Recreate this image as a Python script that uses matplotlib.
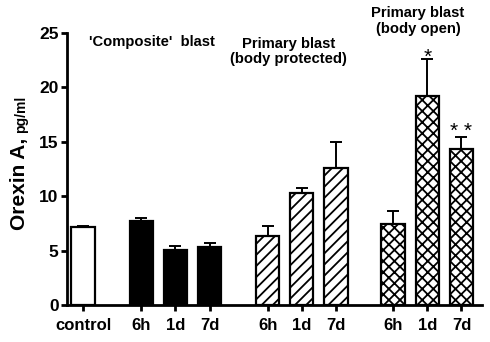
import matplotlib
matplotlib.use("Agg")
import matplotlib.pyplot as plt
import numpy as np

plt.rcParams['font.family'] = ['Liberation Sans', 'DejaVu Sans']
plt.rcParams['hatch.linewidth'] = 1.3

labels = ['control', '6h', '1d', '7d', '6h', '1d', '7d', '6h', '1d', '7d']
values = [7.2, 7.75, 5.05, 5.3, 6.3, 10.25, 12.55, 7.45, 19.2, 14.3]
errors = [0.08, 0.22, 0.37, 0.37, 1.0, 0.52, 2.45, 1.22, 3.4, 1.1]
groups = ['control', 'composite', 'composite', 'composite',
          'protected', 'protected', 'protected', 'open', 'open', 'open']
positions = [0, 1.7, 2.7, 3.7, 5.4, 6.4, 7.4, 9.07, 10.07, 11.07]

style = {
    'control': dict(facecolor='white', hatch=None),
    'composite': dict(facecolor='black', hatch=None),
    'protected': dict(facecolor='white', hatch='///'),
    'open': dict(facecolor='white', hatch='xxx'),
}

fig = plt.figure(figsize=(4.9, 3.42), dpi=100)
ax = fig.add_axes([67/490, 1-305/342, (482-67)/490, (305-33)/342])

for p, v, e, g in zip(positions, values, errors, groups):
    st = style[g]
    ax.bar(p, v, width=0.68, color=st['facecolor'], edgecolor='black',
           linewidth=1.6, hatch=st['hatch'], zorder=2)
    ax.errorbar(p, v, yerr=[[0], [e]], fmt='none', ecolor='black',
                elinewidth=1.4, capsize=4.5, capthick=1.4, zorder=3)

ax.set_xlim(-0.47, 11.67)
ax.set_ylim(0, 25)
ax.set_yticks([0, 5, 10, 15, 20, 25])
ax.set_xticks(positions)
ax.set_xticklabels(labels)
for s in ['top', 'right']:
    ax.spines[s].set_visible(False)
for s in ['left', 'bottom']:
    ax.spines[s].set_linewidth(2.0)
ax.tick_params(axis='both', direction='out', length=4, width=2.0, pad=2)
ax.tick_params(axis='y', labelsize=12.5)
ax.tick_params(axis='x', labelsize=12, pad=5)
for t in ax.get_xticklabels() + ax.get_yticklabels():
    t.set_fontweight('bold')

# group annotations
ax.text(2.02, 24.2, "'Composite'  blast", ha='center', va='center',
        fontsize=10.6, fontweight='bold')
ax.text(6.02, 23.3, "Primary blast\n(body protected)", ha='center',
        va='center', fontsize=10.6, fontweight='bold', linespacing=1.15)
ax.text(9.8, 26.1, "Primary blast\n(body open)", ha='center', va='center',
        fontsize=10.6, fontweight='bold', linespacing=1.15, clip_on=False)

# significance marks
ax.text(positions[8], values[8] + errors[8] - 0.3, '*', ha='center',
        va='baseline', fontsize=15)
ax.text(positions[9], values[9] + errors[9] + 0.05, '* *', ha='center',
        va='baseline', fontsize=15)

# y label with smaller units
t1 = fig.text(25/490, 1-230/342, 'Orexin A,', rotation=90,
              rotation_mode='anchor', ha='left', va='baseline',
              fontsize=15, fontweight='bold')
fig.canvas.draw()
bb = t1.get_window_extent(fig.canvas.get_renderer())
fig.text(25/490, (bb.y1 + 5)/342, 'pg/ml', rotation=90,
         rotation_mode='anchor', ha='left', va='baseline',
         fontsize=10, fontweight='bold')

fig.savefig('out.png', dpi=100)
